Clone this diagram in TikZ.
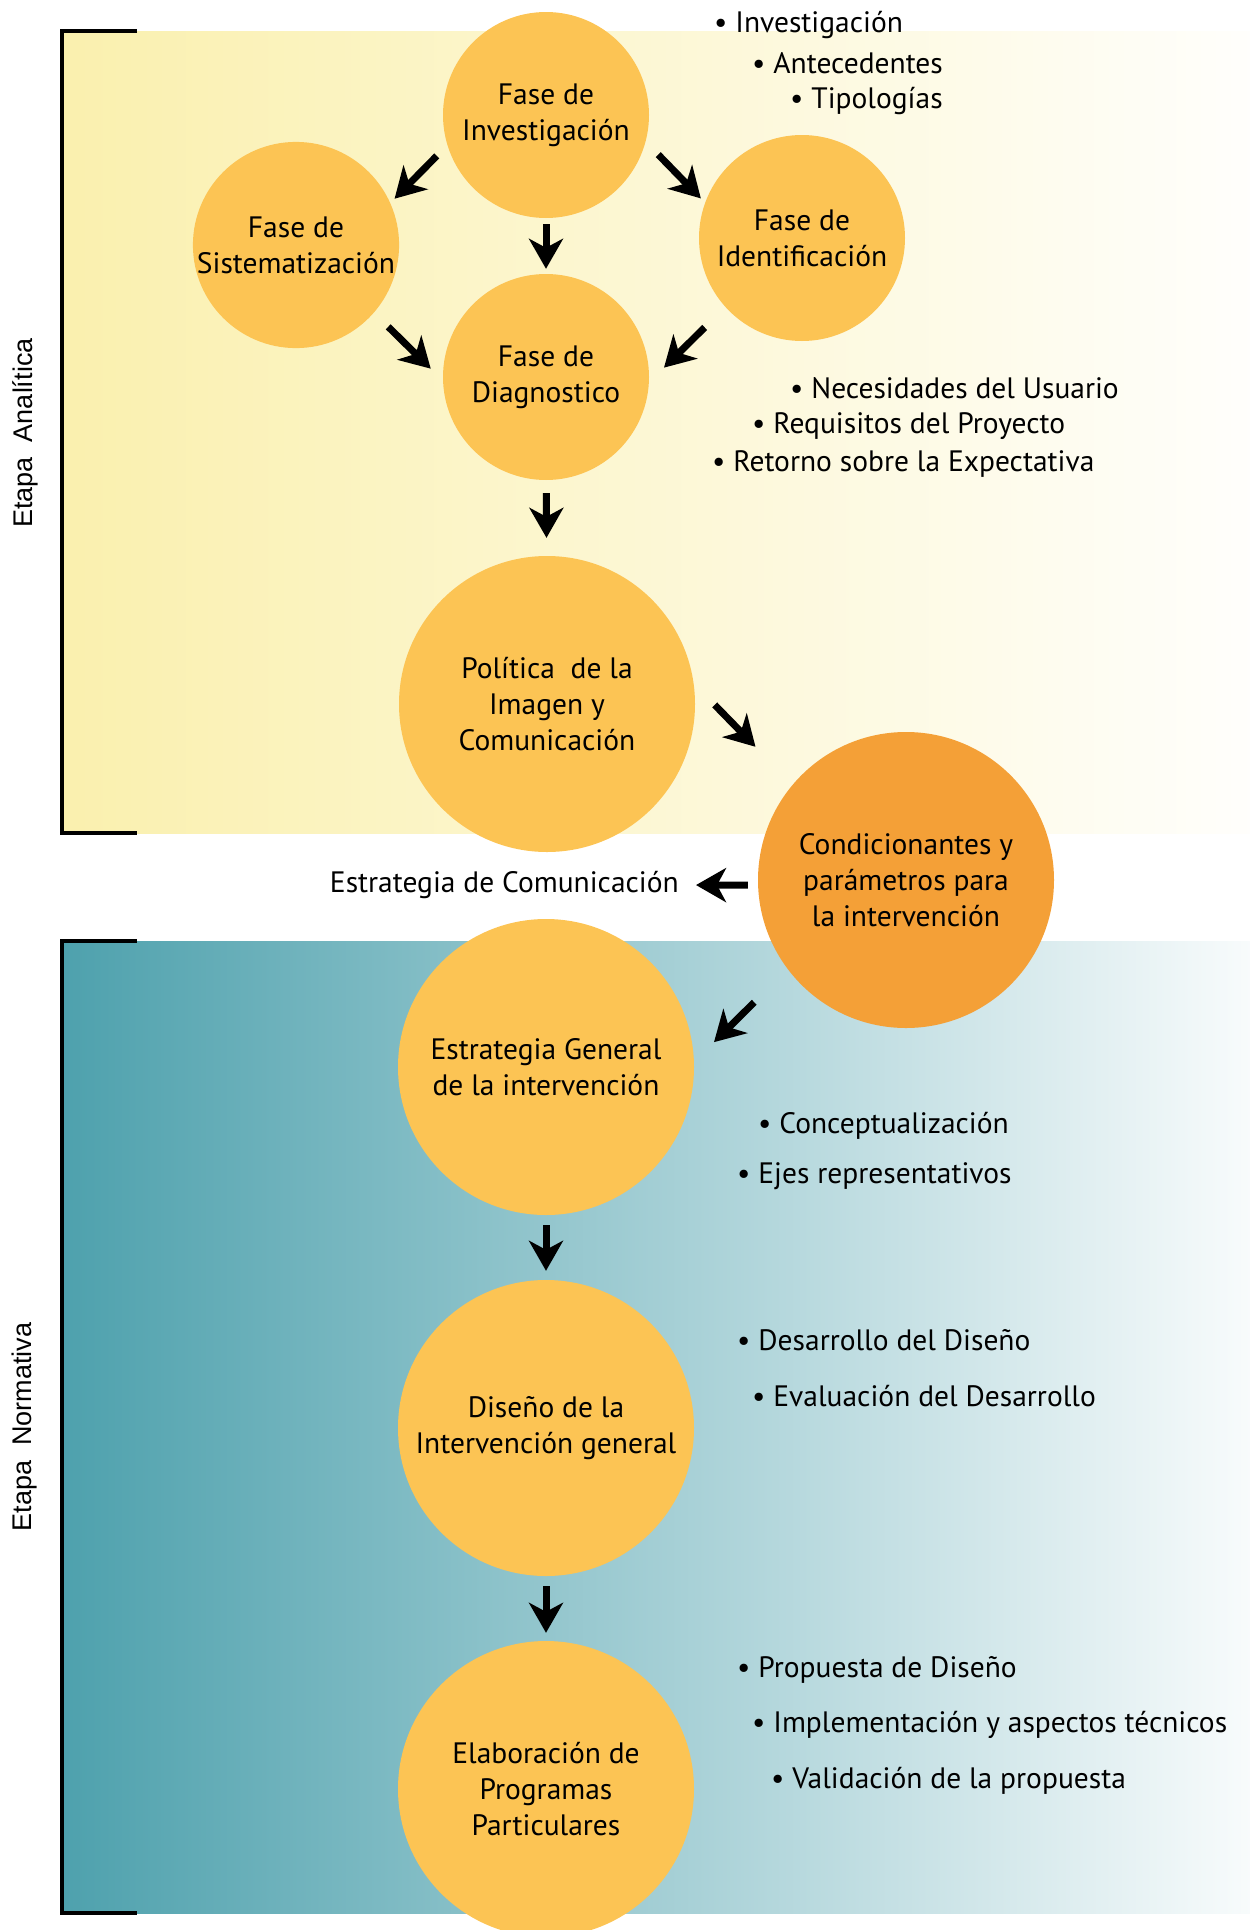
\documentclass[tikz,border=0pt]{standalone}
\usepackage{fontspec}
\setmainfont{PT Sans}
\newfontfamily\etapafont{Liberation Sans}
\usepackage{tikz}
\usetikzlibrary{arrows.meta}
\definecolor{circfill}{HTML}{FCC454}
\definecolor{condfill}{HTML}{F4A037}
\definecolor{analitica}{HTML}{FAF0AE}
\definecolor{normativa}{HTML}{4EA1AD}

\begin{document}
\begin{tikzpicture}[x=1pt, y=-1pt,
	fase/.style={circle, fill=circfill, minimum size=206pt, inner sep=0pt, align=center, font=\fontsize{29.5}{36}\selectfont},
	grande/.style={fase, minimum size=296pt},
	punto/.style={anchor=west, inner sep=0pt, font=\fontsize{29.5}{34}\selectfont},
	etapa/.style={rotate=90, inner sep=0pt, font=\etapafont\fontsize{27}{30}\selectfont},
	arr/.style={-{Stealth[length=30pt, width=34pt, inset=9pt]}, line width=7pt}]
	\useasboundingbox (0,0) rectangle (1250,1930);
	% bands
	\shade[left color=analitica, right color=white!96!analitica] (62,31) rectangle (1250,833);
	\shade[left color=normativa, right color=white!96!normativa] (62,941) rectangle (1250,1913);
	\draw[line width=4pt] (137,31) -- (62,31) -- (62,833) -- (137,833);
	\draw[line width=4pt] (137,941) -- (62,941) -- (62,1913) -- (137,1913);
	\node[etapa] (etana) at (25,433) {Etapa\ \ Analítica};
	\node[etapa] (etnor) at (25,1427) {Etapa\ \ Normativa};
	% phases
	\node[fase] (inv) at (546,115) {Fase de\\Investigación};
	\node[fase] (sist) at (296,245) {Fase de\\Sistematización};
	\node[fase] (ident) at (802,238) {Fase de\\Identificación};
	\node[fase] (diag) at (546,377) {Fase de\\Diagnostico};
	\node[grande] (pol) at (547,704) {Política\ \ de la\\Imagen y\\Comunicación};
	\node[grande, fill=condfill] (cond) at (906,880) {Condicionantes y\\parámetros para\\la intervención};
	\node[grande] (estgen) at (546,1067) {Estrategia General\\de la intervención};
	\node[grande] (dis) at (546,1428) {Diseño de la\\Intervención general};
	\node[grande] (elab) at (546,1789) {Elaboración de\\Programas\\Particulares};
	\node[punto, anchor=east] (estcom) at (679,885) {Estrategia de Comunicación};
	% lists
	\node[punto] (inv1) at (714,25) {\textbullet\ Investigación};
	\node[punto] (inv2) at (752,63) {\textbullet\ Antecedentes};
	\node[punto] (inv3) at (790,101) {\textbullet\ Tipologías};
	\node[punto] (diag1) at (790,388) {\textbullet\ Necesidades del Usuario};
	\node[punto] (diag2) at (752,426) {\textbullet\ Requisitos del Proyecto};
	\node[punto] (diag3) at (712,464) {\textbullet\ Retorno sobre la Expectativa};
	\node[punto] (est1) at (758,1126) {\textbullet\ Conceptualización};
	\node[punto] (est2) at (737,1176) {\textbullet\ Ejes representativos};
	\node[punto] (dis1) at (737,1340) {\textbullet\ Desarrollo del Diseño};
	\node[punto] (dis2) at (752,1396) {\textbullet\ Evaluación del Desarrollo};
	\node[punto] (elab1) at (737,1670) {\textbullet\ Propuesta de Diseño};
	\node[punto] (elab2) at (752,1725) {\textbullet\ Implementación y aspectos técnicos};
	\node[punto] (elab3) at (771,1781) {\textbullet\ Validación de la propuesta};
	% arrows
	\draw[arr, shorten <=15pt, shorten >=6pt] (inv.197) -- (sist.24);
	\draw[arr, shorten <=18pt, shorten >=6pt] (inv.345) -- (ident.160);
	\draw[arr, shorten <=6pt, shorten >=5pt] (inv) -- (diag);
	\draw[arr, shorten <=20pt, shorten >=17pt] (sist.319) -- (diag.182);
	\draw[arr, shorten <=29pt, shorten >=21pt] (ident.222) -- (diag.357);
	\draw[arr, shorten <=13pt, shorten >=18pt] (diag) -- (pol);
	\draw[arr, shorten <=30pt, shorten >=53pt] (pol.8) -- (cond.140);
	\draw[arr, shorten <=10pt, shorten >=17pt] (cond.182) -- (estcom.east);
	\draw[arr, shorten <=47pt, shorten >=28pt] (cond.217) -- (estgen.2);
	\draw[arr, shorten <=10pt, shorten >=9pt] (estgen) -- (dis);
	\draw[arr, shorten <=10pt, shorten >=8pt] (dis) -- (elab);
\end{tikzpicture}
\end{document}
